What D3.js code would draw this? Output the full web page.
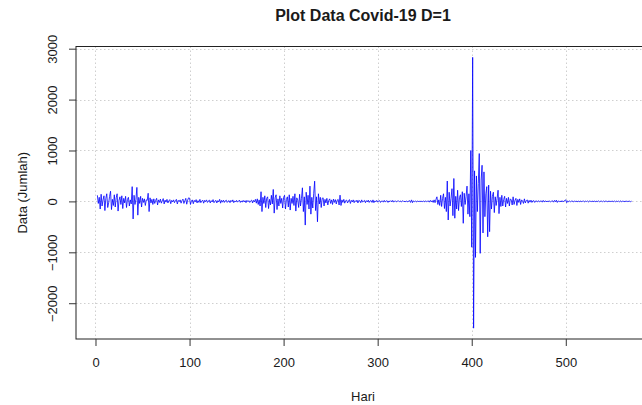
<!DOCTYPE html>
<html>
<head>
<meta charset="utf-8">
<script src="https://cdn.jsdelivr.net/npm/d3@7/dist/d3.min.js"></script>
<style>
  body { margin: 0; background: #fff; overflow: hidden; }
  svg text { font-family: "Liberation Sans", Arial, sans-serif; fill: #1a1a1a; }
</style>
</head>
<body>
<div id="chart"></div>
<script>
const chartTitle = 'Plot Data Covid-19 D=1'
const xTitle = 'Hari'
const yTitle = 'Data (Jumlah)'

// first difference of daily cases, day index starts at 2
const startDay = 2
const jumlahDiff = [
  120, -40, 80, -150, 140, -90, 30, 110, -180, 60,
  150, -120, -30, 100, 200, -160, 40, -80, 130, -110,
  70, 150, -190, 20, 90, -60, 110, -140, 60, -30,
  100, -120, 40, 80, -90, 30, -50, 290, -345, 120,
  -60, 40, 275, -270, 80, -40, 100, -110, 60, -20,
  50, -80, 30, 20, 160, -200, 70, -30, 40, -60,
  50, -40, 20, 60, -70, 30, -20, 45, -35, 10,
  55, -50, 25, -15, 40, -30, 10, 35, -45, 20,
  -10, 30, -25, 15, 40, -50, 20, -5, 30, -35,
  15, 45, -40, 10, 60, -55, 25, 70, 65, -60,
  10, 30, -45, 20, -10, 35, -30, 15, -20, 40,
  -25, 5, 25, -35, 20, -5, 30, -20, 10, 25,
  -30, 15, -10, 35, -25, 5, 20, -30, 15, -10,
  40, -35, 20, -15, 25, -20, 10, 25, -20, 5,
  15, -25, 20, -5, 30, -25, 10, -10, 20, -15,
  5, 25, -20, 10, -15, 20, -10, 15, -25, 20,
  -5, 15, -20, 10, 25, -30, 20, -10, 40, -35,
  50, -60, 30, -90, 190, -200, 80, -40, 110, -120,
  60, 90, -140, 40, -70, 120, -50, 235, -230, 70,
  130, -160, 50, -90, 110, -40, 60, -130, 80, 120,
  -150, 40, 90, -110, 130, -170, 60, -40, 100, -80,
  150, -190, 70, 30, -120, 140, -90, 60, 267, -200,
  90, -465, 180, -60, 120, -150, 300, -250, 80, -130,
  160, 398, -180, 90, -400, 150, -50, 80, -120, 60,
  70, -90, 40, -30, 60, -70, 20, 50, -40, 30,
  -60, 45, -20, 35, -50, 25, 40, -70, 123, -80,
  30, -20, 40, -35, 15, 25, -30, 10, 35, -40,
  20, -10, 30, -25, 15, -5, 25, -30, 20, 10,
  -25, 30, -15, 5, 20, -25, 15, -10, 25, -20,
  10, 15, -20, 30, -25, 10, -5, 20, -15, 10,
  15, -20, 5, 10, -15, 20, -10, 5, 15, -20,
  10, -5, 15, -10, 20, -15, 5, 10, -10, 5,
  10, -5, 8, -10, 5, 12, -8, 3, -6, 10,
  -12, 6, 15, -20, 30, -25, 10, -5, 8, -10,
  5, 3, -8, 10, -6, 4, -5, 8, -10, 12,
  -5, 3, 10, -15, 20, -10, 15, -20, 30, -25,
  40, 90, -60, 30, -80, 120, -100, 60, 150, -140,
  80, -200, 400, -365, 180, -90, 60, 250, -280, 450,
  -330, 100, -150, 220, -180, 80, 130, -100, 190, -430,
  160, -60, 100, 300, -250, 150, -300, 1000, -900, 2830,
  -2490, 600, -1100, 500, -200, 350, 940, -1020, 420, 710,
  -620, 580, -300, 150, 290, -695, 320, -595, 200, -150,
  100, 180, -220, 90, -80, 60, 220, -240, 80, -100,
  120, -90, 40, 100, -110, 60, -40, 80, -90, 50,
  30, -70, 90, -60, 20, 60, -80, 40, -20, 50,
  -60, 30, 10, -40, 50, -30, 15, 30, -35, 20,
  -15, 25, -20, 10, 15, -20, 10, 5, -10, 15,
  -10, 5, 10, -15, 20, -10, 5, 8, -12, 10,
  -5, 8, -10, 6, 12, -15, 20, -8, 25, -20,
  10, -5, 8, -12, 15, -10, 5, 20, 30, -25,
  10, -5, 8, -6, 4, 10, -12, 6, -4, 8,
  -10, 5, 3, -8, 10, -6, 4, 6, -8, 5,
  -3, 8, -10, 6, 3, -5, 8, -6, 4, 5,
  -8, 6, -4, 10, -8, 3, 5, -6, 8, -5,
  4, 6, -8, 5, -3, 7, -6, 4, 3, -5,
  8, -7, 5, -3, 6, -8, 10, -6, 3, 5,
  -7, 6, -4, 8, -5, 3, 4, -6, 5
]

const xTicks = [0, 100, 200, 300, 400, 500]
const yTicks = [-2000, -1000, 0, 1000, 2000, 3000]

const width = 642
const height = 405
const plot = { left: 76, right: 653, top: 46.5, bottom: 339 }

const data = jumlahDiff.map((v, i) => ({ hari: startDay + i, nilai: v }))

// R style axis range: data extent stretched by 4% each side
function padExtent(ext) {
  const pad = (ext[1] - ext[0]) * 0.04
  return [ext[0] - pad, ext[1] + pad]
}

const x = d3.scaleLinear()
  .domain(padExtent(d3.extent(data, d => d.hari)))
  .range([plot.left, plot.right])

const y = d3.scaleLinear()
  .domain(padExtent(d3.extent(data, d => d.nilai)))
  .range([plot.bottom, plot.top])

const svg = d3.select('#chart').append('svg')
  .attr('width', width)
  .attr('height', height)

// grid
const grid = svg.append('g')
  .attr('stroke', '#cfcfcf')
  .attr('stroke-width', 1)
  .attr('stroke-dasharray', '1.5,2.5')

grid.selectAll('.gx')
  .data(xTicks)
  .join('line')
  .attr('x1', d => Math.round(x(d)) + 0.5)
  .attr('x2', d => Math.round(x(d)) + 0.5)
  .attr('y1', plot.top)
  .attr('y2', plot.bottom)

grid.selectAll('.gy')
  .data(yTicks)
  .join('line')
  .attr('x1', plot.left)
  .attr('x2', plot.right)
  .attr('y1', d => Math.round(y(d)) + 0.5)
  .attr('y2', d => Math.round(y(d)) + 0.5)

// series
const line = d3.line()
  .x(d => x(d.hari))
  .y(d => y(d.nilai))

svg.append('path')
  .datum(data)
  .attr('fill', 'none')
  .attr('stroke', '#0000ff')
  .attr('stroke-width', 0.8)
  .attr('d', line)

// box
svg.append('rect')
  .attr('x', plot.left)
  .attr('y', plot.top)
  .attr('width', plot.right - plot.left)
  .attr('height', plot.bottom - plot.top)
  .attr('fill', 'none')
  .attr('stroke', '#222')
  .attr('stroke-width', 1)

// x axis
const xAxis = svg.append('g')
  .attr('transform', `translate(0,${plot.bottom})`)
  .call(d3.axisBottom(x).tickValues(xTicks).tickSize(7).tickPadding(12).tickFormat(d3.format('d')))

xAxis.select('.domain').remove()
xAxis.selectAll('line').attr('stroke', '#333')
xAxis.selectAll('text')
  .style('font-size', '13px')
  .attr('fill', '#1a1a1a')

// y axis, labels parallel to the axis like R
const yAxis = svg.append('g')
  .attr('transform', `translate(${plot.left},0)`)
  .call(d3.axisLeft(y).tickValues(yTicks).tickSize(7).tickFormat(d3.format('d')))

yAxis.select('.domain').remove()
yAxis.selectAll('line').attr('stroke', '#333')
yAxis.selectAll('text')
  .attr('x', 0)
  .attr('y', -24)
  .attr('dy', '0.35em')
  .attr('transform', 'rotate(-90)')
  .attr('text-anchor', 'middle')
  .attr('fill', '#1a1a1a')
  .style('font-size', '13px')

// titles
svg.append('text')
  .attr('x', 363)
  .attr('y', 20.5)
  .attr('text-anchor', 'middle')
  .style('font-size', '16px')
  .style('font-weight', 'bold')
  .text(chartTitle)

svg.append('text')
  .attr('x', 363)
  .attr('y', 401)
  .attr('text-anchor', 'middle')
  .style('font-size', '13px')
  .text(xTitle)

svg.append('text')
  .attr('transform', `translate(22,${(plot.top + plot.bottom) / 2}) rotate(-90)`)
  .attr('dy', '0.35em')
  .attr('text-anchor', 'middle')
  .style('font-size', '13px')
  .text(yTitle)
</script>
</body>
</html>
